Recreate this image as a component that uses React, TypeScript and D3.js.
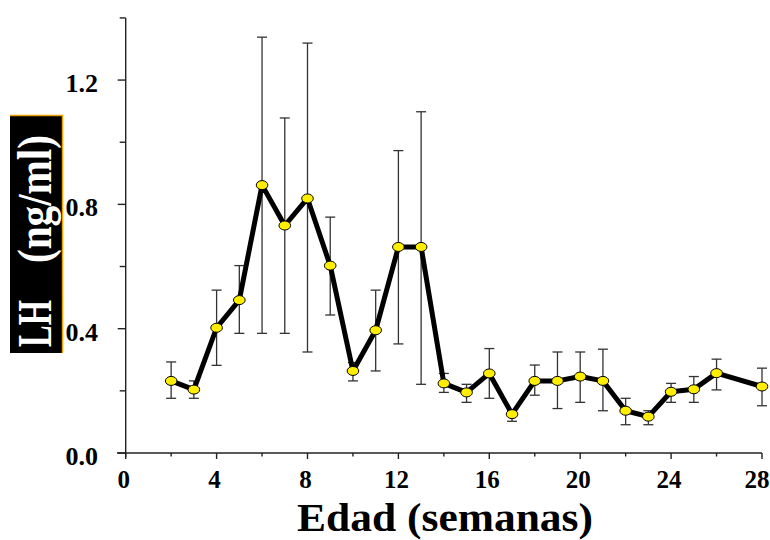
import * as d3 from "d3";
import { useEffect, useRef } from "react";

// edad (semanas)
const weeks = [2, 3, 4, 5, 6, 7, 8, 9, 10, 11, 12, 13, 14, 15, 16, 17, 18, 19, 20, 21, 22, 23, 24, 25, 26, 28];
// LH media (ng/ml)
const lhMean = [0.232, 0.204, 0.403, 0.492, 0.862, 0.732, 0.819, 0.603, 0.264, 0.395, 0.663, 0.663, 0.224, 0.195, 0.256, 0.125, 0.232, 0.232, 0.246, 0.232, 0.136, 0.117, 0.197, 0.205, 0.257, 0.214];
const lhUpper = [0.293, 0.232, 0.524, 0.603, 1.338, 1.078, 1.319, 0.759, 0.291, 0.524, 0.973, 1.098, 0.256, 0.221, 0.336, 0.135, 0.283, 0.325, 0.325, 0.334, 0.176, 0.136, 0.224, 0.246, 0.302, 0.273];
const lhLower = [0.176, 0.176, 0.282, 0.385, 0.385, 0.385, 0.325, 0.444, 0.232, 0.264, 0.351, 0.221, 0.195, 0.163, 0.176, 0.102, 0.186, 0.143, 0.163, 0.136, 0.091, 0.091, 0.163, 0.163, 0.203, 0.152];

const xMajor = [0, 4, 8, 12, 16, 20, 24, 28];
const xMinor = [2, 6, 10, 14, 18, 22, 26];
const yMajor = [0, 0.4, 0.8, 1.2];
const yMinor = [0.2, 0.6, 1.0, 1.4];

export default function App() {
  const ref = useRef<SVGSVGElement>(null);

  useEffect(() => {
    const width = 770;
    const height = 540;
    const svg = d3.select(ref.current);
    svg.selectAll("*").remove();

    const x = d3.scaleLinear().domain([0, 28]).range([125.7, 762]);
    const y = d3.scaleLinear().domain([0, 1.4]).range([453, 17.9]);

    const font = "'Liberation Serif', 'Times New Roman', serif";

    // y label box (black with orange edge)
    svg.append("rect").attr("x", 10).attr("y", 115).attr("width", 52.5).attr("height", 238).attr("fill", "#000");
    svg.append("path")
      .attr("d", "M10,115.5 H62.5 V353")
      .attr("fill", "none")
      .attr("stroke", "#f0a000")
      .attr("stroke-width", 1.5);
    // "LH" and "(ng/ml)" placed apart, as in the original
    const lbl = svg.append("g")
      .attr("fill", "#fff")
      .attr("font-family", font)
      .attr("font-weight", "bold")
      .attr("font-size", 48);
    lbl.append("text")
      .attr("transform", `translate(51,347) rotate(-90)`)
      .attr("textLength", 47)
      .attr("lengthAdjust", "spacingAndGlyphs")
      .text("LH");
    lbl.append("text")
      .attr("transform", `translate(51,263) rotate(-90)`)
      .attr("textLength", 128)
      .attr("lengthAdjust", "spacingAndGlyphs")
      .text("(ng/ml)");

    // axes lines
    const axis = svg.append("g").attr("stroke", "#222").attr("stroke-width", 1.4);
    axis.append("line").attr("x1", 117).attr("x2", x(28)).attr("y1", y(0)).attr("y2", y(0));
    axis.append("line").attr("x1", x(0)).attr("x2", x(0)).attr("y1", y(1.4)).attr("y2", y(0) + 4);

    axis.selectAll(".xmaj").data(xMajor).join("line")
      .attr("x1", d => x(d)).attr("x2", d => x(d)).attr("y1", y(0)).attr("y2", y(0) + 6);
    axis.selectAll(".xmin").data(xMinor).join("line")
      .attr("x1", d => x(d)).attr("x2", d => x(d)).attr("y1", y(0)).attr("y2", y(0) + 3.5);
    axis.selectAll(".ymaj").data(yMajor).join("line")
      .attr("x1", x(0) - 8).attr("x2", x(0)).attr("y1", d => y(d)).attr("y2", d => y(d));
    axis.selectAll(".ymin").data(yMinor).join("line")
      .attr("x1", x(0) - 6).attr("x2", x(0)).attr("y1", d => y(d)).attr("y2", d => y(d));

    // tick labels
    svg.append("g").selectAll("text").data(yMajor).join("text")
      .attr("x", 98).attr("y", d => y(d) + 12)
      .attr("text-anchor", "end")
      .attr("font-family", font).attr("font-weight", "bold").attr("font-size", 26)
      .text(d => d.toFixed(1));
    svg.append("g").selectAll("text").data(xMajor).join("text")
      .attr("x", d => (d === 28 ? x(d) - 5 : x(d) - 2)).attr("y", 488)
      .attr("text-anchor", "middle")
      .attr("font-family", font).attr("font-weight", "bold").attr("font-size", 25)
      .text(d => String(d));

    svg.append("text")
      .attr("x", 297).attr("y", 531)
      .attr("font-family", font).attr("font-weight", "bold").attr("font-size", 40)
      .attr("textLength", 296)
      .attr("lengthAdjust", "spacingAndGlyphs")
      .text("Edad (semanas)");

    const data = weeks.map((w, i) => ({ w, m: lhMean[i], lo: lhLower[i], hi: lhUpper[i] }));

    // error bars
    const eb = svg.append("g").attr("stroke", "#333").attr("stroke-width", 1.3);
    eb.selectAll(".v").data(data).join("line")
      .attr("x1", d => x(d.w)).attr("x2", d => x(d.w)).attr("y1", d => y(d.lo)).attr("y2", d => y(d.hi));
    eb.selectAll(".t").data(data).join("line")
      .attr("x1", d => x(d.w) - 5).attr("x2", d => x(d.w) + 5).attr("y1", d => y(d.hi)).attr("y2", d => y(d.hi));
    eb.selectAll(".b").data(data).join("line")
      .attr("x1", d => x(d.w) - 5).attr("x2", d => x(d.w) + 5).attr("y1", d => y(d.lo)).attr("y2", d => y(d.lo));

    const line = d3.line<{ w: number; m: number }>().x(d => x(d.w)).y(d => y(d.m));
    svg.append("path")
      .attr("d", line(data))
      .attr("fill", "none")
      .attr("stroke", "#000")
      .attr("stroke-width", 5)
      .attr("stroke-linejoin", "round");

    svg.append("g").selectAll("ellipse").data(data).join("ellipse")
      .attr("cx", d => x(d.w)).attr("cy", d => y(d.m))
      .attr("rx", 5.8).attr("ry", 4.5)
      .attr("fill", "#ffee00")
      .attr("stroke", "#000")
      .attr("stroke-width", 1);

    svg.attr("width", width).attr("height", height);
  }, []);

  return (
    <svg
      ref={ref}
      width={770}
      height={540}
      style={{ position: "absolute", left: 0, top: 0, background: "#fff" }}
    />
  );
}
